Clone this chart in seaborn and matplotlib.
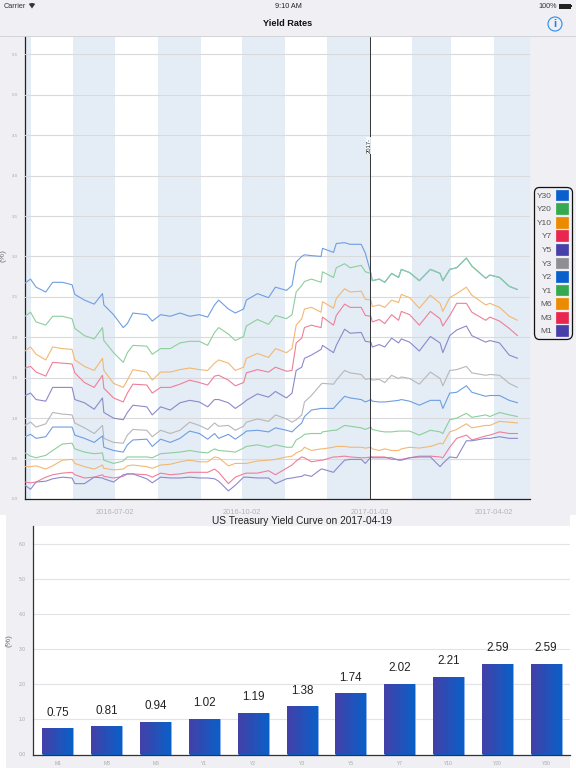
import numpy as np
import pandas as pd
import matplotlib
matplotlib.use("Agg")
import matplotlib.pyplot as plt
from matplotlib.patches import Patch, Rectangle, Circle, Wedge
import seaborn as sns

DATES = """2016-04-28 2016-05-02 2016-05-06 2016-05-13 2016-05-18 2016-05-25 2016-06-01 2016-06-03 2016-06-10 2016-06-17
2016-06-23 2016-06-24 2016-07-01 2016-07-08 2016-07-11 2016-07-15 2016-07-25 2016-07-29 2016-08-04 2016-08-11
2016-08-18 2016-08-25 2016-09-01 2016-09-07 2016-09-12 2016-09-15 2016-09-22 2016-09-27 2016-10-03 2016-10-05
2016-10-13 2016-10-21 2016-10-26 2016-11-03 2016-11-07 2016-11-10 2016-11-14 2016-11-16 2016-11-21 2016-11-28
2016-11-29 2016-12-07 2016-12-09 2016-12-15 2016-12-19 2016-12-27 2016-12-30 2017-01-03 2017-01-04 2017-01-09
2017-01-13 2017-01-18 2017-01-23 2017-01-25 2017-01-31 2017-02-07 2017-02-15 2017-02-22 2017-02-24 2017-03-01
2017-03-06 2017-03-13 2017-03-17 2017-03-27 2017-03-30 2017-04-06 2017-04-13 2017-04-19""".split()

Y20 = [2.26,2.31,2.19,2.15,2.26,2.26,2.23,2.11,2.02,1.98,2.12,1.96,1.81,1.69,1.81,1.90,1.89,1.79,1.86,1.86,
       1.93,1.95,1.95,1.90,2.06,2.12,2.04,1.96,2.01,2.14,2.22,2.16,2.27,2.23,2.28,2.56,2.64,2.69,2.72,2.68,
       2.81,2.74,2.86,2.91,2.86,2.89,2.81,2.79,2.70,2.72,2.68,2.79,2.74,2.84,2.80,2.70,2.84,2.79,2.70,2.84,
       2.86,2.98,2.88,2.73,2.77,2.74,2.63,2.59]
Y30 = [2.67,2.72,2.62,2.56,2.68,2.68,2.65,2.53,2.46,2.41,2.54,2.40,2.28,2.12,2.17,2.30,2.28,2.20,2.28,2.26,
       2.30,2.26,2.28,2.25,2.40,2.46,2.35,2.30,2.35,2.46,2.54,2.49,2.62,2.58,2.64,2.93,3.00,3.02,3.01,3.00,
       3.10,3.05,3.16,3.17,3.15,3.15,3.04,2.79,2.70,2.72,2.68,2.79,2.74,2.84,2.80,2.70,2.84,2.79,2.70,2.84,
       2.86,2.98,2.88,2.73,2.77,2.74,2.63,2.59]
Y10 = [1.83,1.88,1.79,1.72,1.88,1.86,1.85,1.72,1.64,1.59,1.74,1.59,1.43,1.38,1.47,1.60,1.57,1.47,1.57,1.57,
       1.60,1.62,1.60,1.59,1.68,1.72,1.68,1.59,1.63,1.74,1.80,1.75,1.86,1.81,1.86,2.15,2.23,2.35,2.37,2.31,
       2.44,2.36,2.48,2.60,2.56,2.57,2.47,2.46,2.38,2.40,2.37,2.46,2.43,2.53,2.49,2.36,2.52,2.42,2.32,2.49,
       2.54,2.62,2.52,2.40,2.42,2.37,2.26,2.21]
Y7 = [1.62,1.64,1.57,1.52,1.69,1.68,1.67,1.56,1.44,1.38,1.53,1.37,1.25,1.20,1.31,1.42,1.41,1.31,1.38,1.38,
      1.42,1.47,1.44,1.41,1.52,1.53,1.47,1.40,1.44,1.56,1.60,1.57,1.63,1.58,1.59,1.93,1.99,2.12,2.15,2.12,
      2.25,2.15,2.27,2.41,2.37,2.37,2.27,2.26,2.19,2.22,2.17,2.28,2.21,2.32,2.28,2.15,2.32,2.23,2.14,2.27,
      2.42,2.42,2.31,2.21,2.25,2.20,2.11,2.02]
Y5 = [1.28,1.31,1.23,1.21,1.38,1.38,1.38,1.23,1.19,1.11,1.25,1.07,1.00,0.98,1.07,1.16,1.14,1.04,1.14,1.10,
      1.19,1.22,1.20,1.14,1.23,1.23,1.19,1.12,1.19,1.22,1.30,1.26,1.33,1.25,1.31,1.59,1.63,1.74,1.78,1.85,
      1.90,1.81,1.90,2.10,2.05,2.06,1.95,1.94,1.88,1.91,1.88,1.99,1.93,1.98,1.94,1.83,2.01,1.93,1.81,2.02,
      2.09,2.14,2.02,1.94,1.96,1.93,1.78,1.74]
Y3 = [0.91,0.95,0.89,0.93,1.07,1.05,1.04,0.94,0.88,0.81,0.91,0.75,0.70,0.69,0.79,0.86,0.85,0.77,0.85,0.81,
      0.85,0.95,0.91,0.86,0.94,0.90,0.91,0.85,0.90,0.95,0.99,0.96,1.04,0.99,0.95,0.98,1.04,1.20,1.28,1.42,
      1.43,1.42,1.47,1.59,1.56,1.54,1.48,1.49,1.47,1.48,1.44,1.53,1.49,1.51,1.49,1.42,1.57,1.49,1.40,1.59,
      1.60,1.64,1.56,1.53,1.54,1.53,1.43,1.38]
Y2 = [0.77,0.80,0.75,0.77,0.89,0.89,0.89,0.79,0.75,0.70,0.78,0.64,0.60,0.58,0.67,0.73,0.74,0.65,0.74,0.70,
      0.75,0.84,0.81,0.74,0.81,0.75,0.80,0.74,0.81,0.84,0.85,0.83,0.88,0.85,0.83,0.88,0.94,1.02,1.10,1.12,
      1.12,1.12,1.16,1.27,1.25,1.23,1.20,1.23,1.21,1.20,1.20,1.21,1.22,1.23,1.21,1.16,1.22,1.22,1.12,1.31,
      1.32,1.40,1.32,1.27,1.28,1.28,1.22,1.19]
Y1 = [0.57,0.53,0.51,0.54,0.60,0.68,0.69,0.62,0.58,0.56,0.57,0.48,0.44,0.47,0.52,0.52,0.52,0.51,0.56,0.57,
      0.58,0.60,0.58,0.57,0.62,0.60,0.59,0.58,0.63,0.65,0.67,0.64,0.67,0.64,0.64,0.73,0.77,0.80,0.81,0.81,
      0.83,0.85,0.85,0.91,0.90,0.88,0.86,0.89,0.86,0.84,0.83,0.83,0.84,0.84,0.84,0.79,0.85,0.83,0.81,0.98,
      1.00,1.06,1.01,1.04,1.02,1.07,1.04,1.02]
M6 = [0.40,0.40,0.41,0.37,0.41,0.48,0.49,0.44,0.40,0.37,0.42,0.38,0.36,0.37,0.41,0.42,0.40,0.38,0.42,0.43,
      0.46,0.48,0.46,0.46,0.52,0.51,0.41,0.44,0.44,0.44,0.47,0.48,0.49,0.52,0.53,0.57,0.60,0.64,0.60,0.62,
      0.62,0.64,0.65,0.65,0.64,0.64,0.63,0.64,0.62,0.60,0.62,0.60,0.60,0.62,0.64,0.63,0.65,0.69,0.68,0.83,
      0.86,0.93,0.88,0.91,0.91,0.96,0.95,0.94]
M3 = [0.21,0.20,0.21,0.27,0.30,0.32,0.33,0.30,0.26,0.27,0.30,0.28,0.26,0.28,0.31,0.31,0.30,0.27,0.32,0.30,
      0.31,0.33,0.33,0.33,0.37,0.33,0.19,0.27,0.31,0.32,0.32,0.35,0.30,0.38,0.42,0.47,0.52,0.51,0.46,0.48,
      0.48,0.52,0.52,0.53,0.52,0.51,0.51,0.52,0.52,0.52,0.52,0.49,0.49,0.49,0.51,0.53,0.53,0.52,0.51,0.64,
      0.75,0.79,0.73,0.78,0.79,0.83,0.81,0.81]
M1 = [0.17,0.12,0.21,0.22,0.25,0.27,0.26,0.19,0.19,0.27,0.26,0.25,0.21,0.30,0.31,0.31,0.25,0.20,0.27,0.26,
      0.26,0.27,0.26,0.26,0.25,0.22,0.10,0.17,0.27,0.27,0.26,0.26,0.19,0.25,0.26,0.27,0.28,0.30,0.28,0.37,
      0.37,0.33,0.37,0.48,0.49,0.49,0.44,0.52,0.51,0.51,0.51,0.51,0.48,0.48,0.51,0.52,0.52,0.40,0.44,0.52,
      0.51,0.72,0.72,0.75,0.75,0.77,0.75,0.75]

SERIES = {"Y30": Y30, "Y20": Y20, "Y10": Y10, "Y7": Y7, "Y5": Y5, "Y3": Y3,
          "Y2": Y2, "Y1": Y1, "M6": M6, "M3": M3, "M1": M1}
BLUE, GREEN, ORANGE, RED, PURPLE, GREY = "#0A5FCC", "#34A94F", "#EC8B00", "#E8264F", "#4840A8", "#8E8E93"
SWATCHES = {"Y30": BLUE, "Y20": GREEN, "Y10": ORANGE, "Y7": RED, "Y5": PURPLE, "Y3": GREY,
            "Y2": BLUE, "Y1": GREEN, "M6": ORANGE, "M3": RED, "M1": PURPLE}
L_BLUE, L_GREEN, L_ORANGE, L_RED, L_PURPLE, L_GREY = "#6E9EE2", "#8CCF9B", "#F3B872", "#EF7F99", "#8D89CB", "#B7B7BA"
LINES = {"Y30": L_BLUE, "Y20": L_GREEN, "Y10": L_ORANGE, "Y7": L_RED, "Y5": L_PURPLE, "Y3": L_GREY,
         "Y2": L_BLUE, "Y1": L_GREEN, "M6": L_ORANGE, "M3": L_RED, "M1": L_PURPLE}

CURVE_LABELS = ["M1", "M3", "M6", "Y1", "Y2", "Y3", "Y5", "Y7", "Y10", "Y20", "Y30"]
CURVE_VALUES = [0.75, 0.81, 0.94, 1.02, 1.19, 1.38, 1.74, 2.02, 2.21, 2.59, 2.59]

BANDS = [("2016-04-28", "2016-05-02"), ("2016-06-02", "2016-07-02"), ("2016-08-02", "2016-09-02"),
         ("2016-10-02", "2016-11-02"), ("2016-12-02", "2017-01-02"), ("2017-02-02", "2017-03-02"),
         ("2017-04-02", "2017-04-28")]
DATE_TICKS = ["2016-07-02", "2016-10-02", "2017-01-02", "2017-04-02"]
CURSOR = "2017-01-02"

BG = "#EFEFF4"
sns.set_theme(style="white")
plt.rcParams["font.family"] = ["Liberation Sans", "DejaVu Sans"]
W, H = 576, 768
fig = plt.figure(figsize=(W / 100, H / 100), dpi=100, facecolor=BG)

def rect(l, t, r, b):
    return [l / W, 1 - b / H, (r - l) / W, (b - t) / H]

# page furniture in pixel coordinates
page = fig.add_axes([0, 0, 1, 1], zorder=0)
page.set_xlim(0, W); page.set_ylim(H, 0); page.axis("off")
page.add_patch(Rectangle((0, 515), W, H - 515, fc="white", ec="none"))
page.add_patch(Rectangle((6, 515), 564, H - 515, fc=BG, ec="none"))
page.plot([0, W], [36, 36], color="#D4D4D8", lw=0.7)
page.text(4, 6, "Carrier", fontsize=5.2, color="#333333", va="center")
page.add_patch(Wedge((32, 8.5), 5.5, 235, 305, fc="#333333", ec="none"))
page.text(288, 6, "9:10 AM", fontsize=5.2, color="#222222", va="center", ha="center")
page.text(548, 6, "100%", fontsize=5.2, color="#333333", va="center", ha="center")
page.add_patch(Rectangle((559, 3.5), 11.5, 5, fc="#222222", ec="none"))
page.add_patch(Rectangle((570.5, 5), 1, 2, fc="#222222", ec="none"))
page.text(288, 24, "Yield Rates", fontsize=6.6, fontweight="bold", color="#111111", ha="center", va="center")
page.add_patch(Circle((555, 24), 7, fc="none", ec="#2A8CF0", lw=0.8))
page.text(555, 24, "i", fontsize=8, fontweight="bold", color="#1E7FE8", ha="center", va="center")

# history panel
ax = fig.add_axes(rect(25, 36.5, 530, 499), zorder=1, facecolor="white")
dates = pd.to_datetime(DATES)
long = pd.DataFrame({"date": np.tile(dates, len(SERIES)),
                     "series": np.repeat(list(SERIES), len(dates)),
                     "value": np.concatenate([SERIES[k] for k in SERIES])})
for a, b in BANDS:
    ax.axvspan(pd.Timestamp(a), pd.Timestamp(b), color="#E4ECF5", lw=0, zorder=0)
ax.set_yticks(np.arange(0, 6, 0.5))
ax.grid(axis="y", color="#DADADD", lw=0.8, zorder=1)
ax.set_axisbelow(False)
sns.lineplot(data=long, x="date", y="value", hue="series", hue_order=list(SERIES), palette=LINES,
             estimator=None, errorbar=None, legend=False, lw=0.8, ax=ax, zorder=3)
ax.axvline(pd.Timestamp(CURSOR), color="#333333", lw=0.7, zorder=4)
ax.text(pd.Timestamp(CURSOR), 4.37, "2017-", rotation=90, fontsize=4.2, color="#222222",
        ha="center", va="center", zorder=5,
        bbox=dict(fc="white", ec="none", alpha=0.85, pad=0.8))
ax.set_xlim(pd.Timestamp("2016-04-28"), pd.Timestamp("2017-04-28"))
ax.set_ylim(0, 5.72)
ax.set_xticks(pd.to_datetime(DATE_TICKS))
ax.set_xticklabels(DATE_TICKS, fontsize=5.4, color="#B4B4B8")
ax.set_xlabel(""); ax.set_ylabel("(%)", fontsize=6, color="#777777")
ax.yaxis.set_label_coords(-0.0376, 0.527)
ax.tick_params(axis="y", labelsize=3.2, labelcolor="#AAAAAA", length=0, pad=5)
ax.tick_params(axis="x", length=0, pad=7)
ax.yaxis.set_major_formatter(matplotlib.ticker.FormatStrFormatter("%.1f"))
for s in ("top", "right"):
    ax.spines[s].set_visible(False)
for s in ("left", "bottom"):
    ax.spines[s].set_color("#222222"); ax.spines[s].set_linewidth(0.9)

handles = [Patch(facecolor=SWATCHES[k], edgecolor=SWATCHES[k], lw=0.5, joinstyle="round", label=k) for k in SERIES]
leg = fig.legend(handles=handles, loc="upper left", bbox_to_anchor=(533.5 / W, 1 - 186.5 / H), borderaxespad=0,
                 markerfirst=False, fontsize=6, labelcolor="#555555", frameon=True, fancybox=True,
                 facecolor=BG, edgecolor="#111111", framealpha=1, handlelength=1.5, handleheight=1.62,
                 handletextpad=0.5, labelspacing=0.33, borderpad=0.38)
leg.get_frame().set_linewidth(0.9)
leg.get_frame().set_boxstyle("round", pad=0, rounding_size=0.7)
leg.set_zorder(5)

# curve panel
bx = fig.add_axes(rect(33, 526, 570, 754.5), zorder=1, facecolor="white")
curve = pd.DataFrame({"term": CURVE_LABELS, "value": CURVE_VALUES})
sns.barplot(data=curve, x="term", y="value", order=CURVE_LABELS, width=0.635, color=BLUE,
            saturation=1, ax=bx, zorder=2, edgecolor="#8FB2EA", linewidth=0.6)
gradient = matplotlib.colors.LinearSegmentedColormap.from_list("bar", ["#4440A8", "#0A60C8"])
ramp = np.linspace(0, 1, 64).reshape(1, -1)
for p in list(bx.patches):
    im = bx.imshow(ramp, cmap=gradient, aspect="auto", zorder=2.5,
                   extent=[p.get_x(), p.get_x() + p.get_width(), 0, p.get_height()])
    im.set_clip_path(p)
    bx.annotate(f"{p.get_height():.2f}", (p.get_x() + p.get_width() / 2, p.get_height()),
                xytext=(0, 11.2), textcoords="offset points", ha="center", va="center",
                fontsize=8.4, color="#222222", zorder=4)
bx.set_xlim(-0.512, 10.49)
bx.set_ylim(0, 6.51)
bx.set_yticks(np.arange(0, 7, 1.0))
bx.yaxis.set_major_formatter(matplotlib.ticker.FormatStrFormatter("%.1f"))
bx.grid(axis="y", color="#E3E3E6", lw=0.8, zorder=1)
bx.set_axisbelow(True)
bx.set_xlabel(""); bx.set_ylabel("(%)", fontsize=6, color="#777777")
bx.yaxis.set_label_coords(-0.039, 0.5)
bx.tick_params(axis="y", labelsize=3.6, labelcolor="#AAAAAA", length=0, pad=5)
bx.tick_params(axis="x", labelsize=3.6, labelcolor="#AAAAAA", length=0, pad=5)
for s in ("top", "right"):
    bx.spines[s].set_visible(False)
for s in ("left", "bottom"):
    bx.spines[s].set_color("#333333"); bx.spines[s].set_linewidth(0.9)
page.text(301.5, 520.5, "US Treasury Yield Curve on 2017-04-19", fontsize=7.3, color="#222222",
          ha="center", va="center")

fig.savefig("out.png", dpi=100, facecolor=BG)
